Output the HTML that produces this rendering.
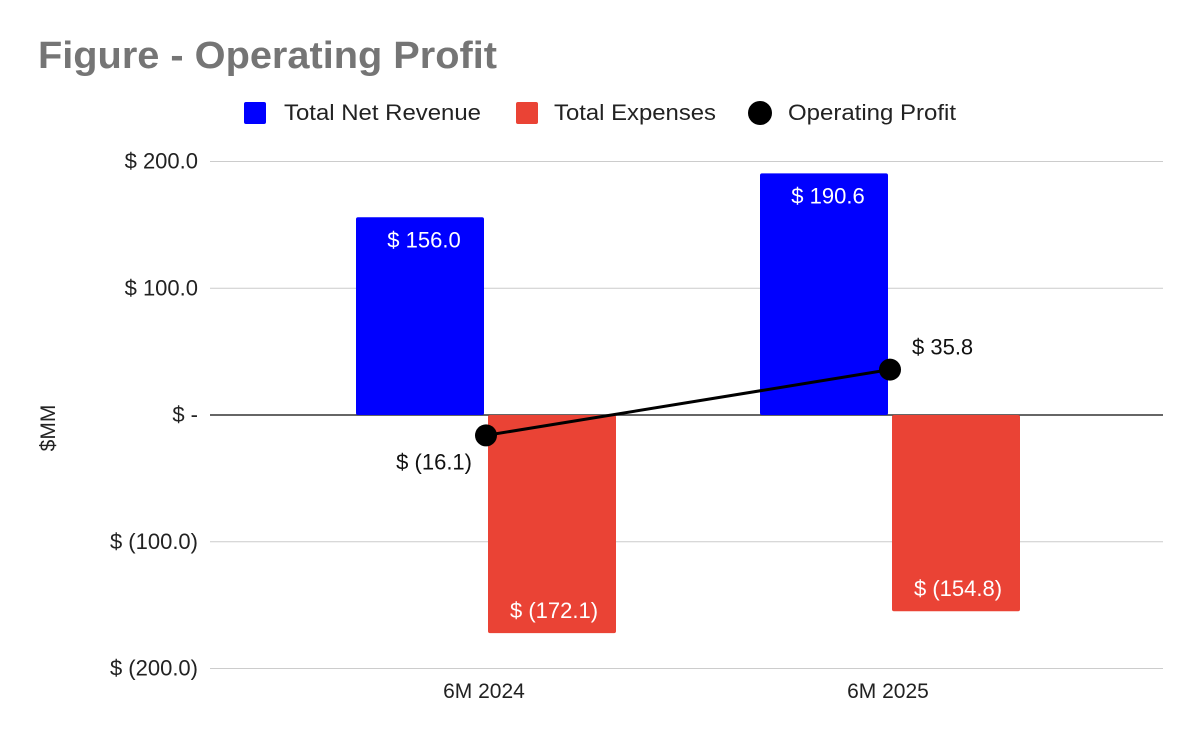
<!DOCTYPE html>
<html><head><meta charset="utf-8"><style>
body{margin:0;background:#fff;}
svg{display:block;font-family:"Liberation Sans",Arial,sans-serif;}
</style></head><body>
<svg id="chart" width="1200" height="742">
<text x="38" y="68" font-size="38" font-weight="bold" fill="#757575" textLength="459" lengthAdjust="spacingAndGlyphs">Figure - Operating Profit</text>
<g>
 <g><rect x="244" y="102" width="22" height="22" rx="2" fill="#0000ff"/><text x="284" y="120" font-size="22" fill="#222" textLength="197" lengthAdjust="spacingAndGlyphs">Total Net Revenue</text></g>
 <g><rect x="516" y="102" width="22" height="22" rx="2" fill="#ea4335"/><text x="554" y="120" font-size="22" fill="#222" textLength="162" lengthAdjust="spacingAndGlyphs">Total Expenses</text></g>
 <g><circle cx="760" cy="113" r="12" fill="#000"/><text x="788" y="120" font-size="22" fill="#222" textLength="168" lengthAdjust="spacingAndGlyphs">Operating Profit</text></g>
</g>
<text transform="translate(55,428) rotate(-90)" text-anchor="middle" font-size="21" fill="#222">$MM</text>
<g id="grid"></g><g id="bars"></g><g id="line"></g>
</svg>
<script>
const categories=["6M 2024","6M 2025"];
const revenue=[156.0,190.6];
const expenses=[-172.1,-154.8];
const profit=[-16.1,35.8];
const yTicks=[200,100,0,-100,-200];
const yTickLabels=["$ 200.0","$ 100.0","$ -","$ (100.0)","$ (200.0)"];
const revLabels=["$ 156.0","$ 190.6"];
const expLabels=["$ (172.1)","$ (154.8)"];
const profLabels=["$ (16.1)","$ 35.8"];
const NS="http://www.w3.org/2000/svg";
const y=v=>415-v*1.2675;
const xc=i=>486+i*404;
function mk(tag,attrs,parent,txt){const e=document.createElementNS(NS,tag);for(const k in attrs)e.setAttribute(k,attrs[k]);if(txt!==undefined)e.textContent=txt;parent.appendChild(e);return e;}
const grid=document.getElementById('grid'),bars=document.getElementById('bars'),line=document.getElementById('line');
yTicks.forEach((t,i)=>{
 const l=mk('line',{x1:210,x2:1163,y1:y(t),y2:y(t),stroke:t===0?'#333':'#ccc','stroke-width':t===0?1.5:1},grid);
 
 
 const tx=mk('text',{x:198,y:y(t)+7,'text-anchor':'end','font-size':22,fill:'#222'},grid,yTickLabels[i]);
 
 
});
categories.forEach((c,i)=>{
 const tx=mk('text',{x:xc(i)-2,y:698,'text-anchor':'middle','font-size':21,fill:'#222'},grid,c);
 
 
 const b=mk('rect',{x:xc(i)-130,y:y(revenue[i]),width:128,height:y(0)-y(revenue[i]),rx:2,fill:'#0000ff'},bars);
 
 
 const bl=mk('text',{x:xc(i)-62,y:y(revenue[i])+30,'text-anchor':'middle','font-size':22,fill:'#fff'},bars,revLabels[i]);
 
 
 const r=mk('rect',{x:xc(i)+2,y:y(0),width:128,height:y(expenses[i])-y(0),rx:2,fill:'#ea4335'},bars);
 
 
 const rl=mk('text',{x:xc(i)+68,y:y(expenses[i])-15,'text-anchor':'middle','font-size':22,fill:'#fff'},bars,expLabels[i]);
 
 
});
const pl=mk('polyline',{points:profit.map((v,i)=>xc(i)+','+y(v)).join(' '),fill:'none',stroke:'#000','stroke-width':3},line);


profit.forEach((v,i)=>{
 const p=mk('circle',{cx:xc(i),cy:y(v),r:11,fill:'#000'},line);
 
 
 const neg=v<0;
 const t=mk('text',{x:neg?xc(i)-14:xc(i)+22,y:neg?y(v)+34:y(v)-15,'text-anchor':neg?'end':'start','font-size':22,fill:'#111'},line,profLabels[i]);
 
 
});
</script>
</body></html>
